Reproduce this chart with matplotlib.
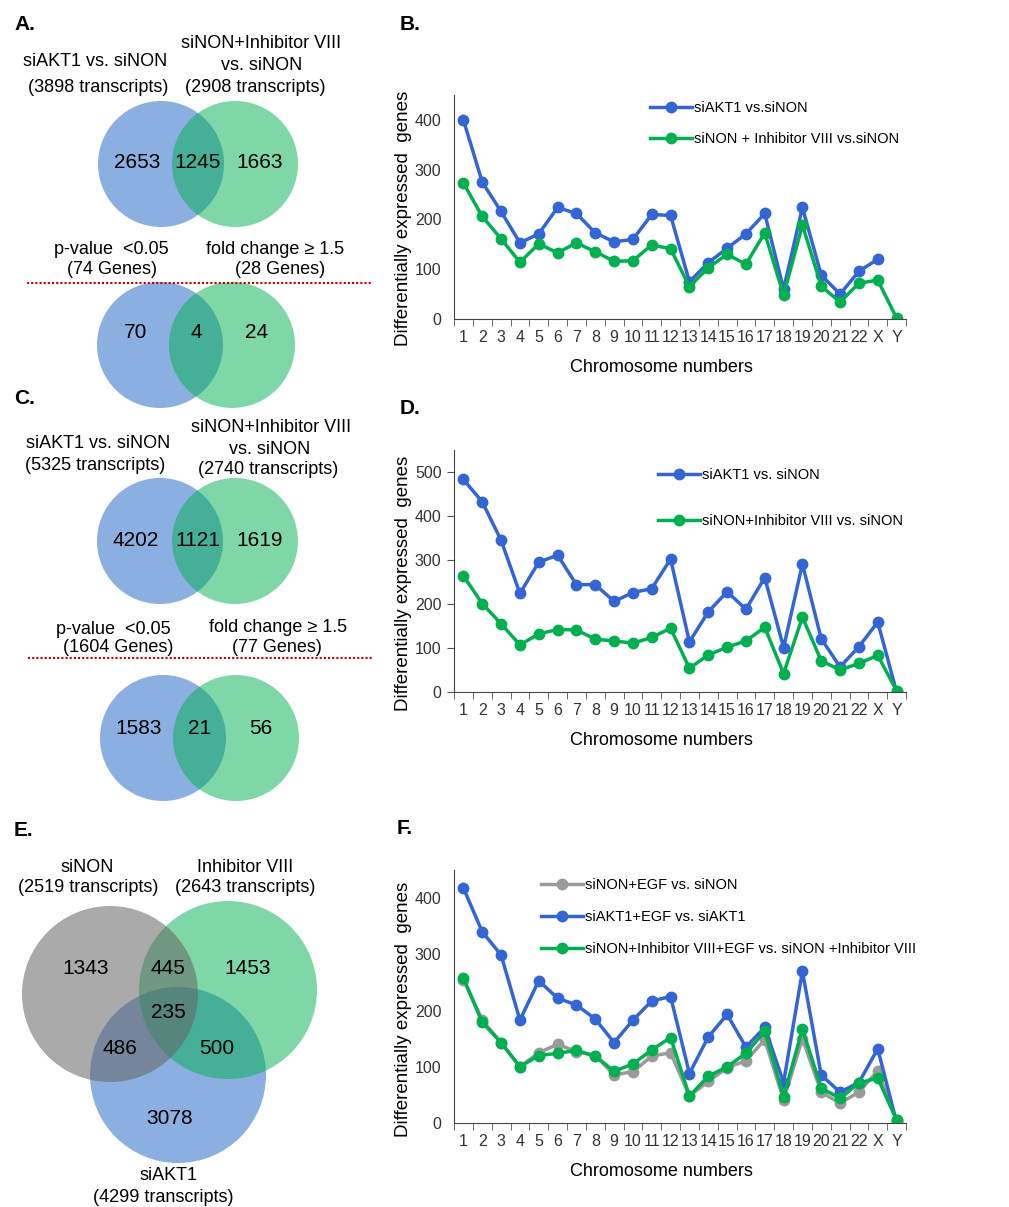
import numpy as np
import matplotlib
matplotlib.use('Agg')
import matplotlib.pyplot as plt
from matplotlib.patches import Circle

plt.rcParams['font.family'] = ['Liberation Sans', 'DejaVu Sans']

# dados
chrom = [str(i) for i in range(1, 23)] + ['X', 'Y']

b_siakt1 = [400, 275, 216, 153, 171, 224, 212, 173, 155, 160, 210, 208,
            75, 113, 142, 171, 212, 60, 224, 88, 50, 96, 120, np.nan]
b_inhib = [273, 206, 161, 114, 151, 133, 153, 135, 116, 117, 149, 141,
           65, 103, 130, 110, 173, 48, 189, 66, 34, 72, 78, 2]

d_siakt1 = [483, 432, 345, 224, 295, 311, 244, 244, 206, 226, 235, 302,
            114, 182, 228, 188, 260, 101, 291, 121, 57, 103, 159, 0]
d_inhib = [264, 201, 155, 107, 132, 142, 141, 120, 116, 111, 124, 145,
           54, 84, 102, 116, 147, 42, 170, 71, 50, 65, 83, 3]

f_sinon_egf = [255, 183, 143, 100, 125, 140, 127, 120, 86, 91, 119, 125,
               48, 74, 98, 111, 148, 41, 150, 55, 35, 55, 93, 5]
f_siakt1_egf = [418, 340, 299, 183, 253, 222, 210, 185, 143, 183, 217, 225,
                88, 153, 193, 135, 170, 72, 270, 85, 55, 72, 132, 1]
f_inhib_egf = [258, 179, 143, 100, 120, 124, 129, 119, 92, 105, 130, 152,
               48, 83, 100, 124, 163, 47, 167, 62, 44, 71, 80, 5]

venn_a_top = [2653, 1245, 1663]
venn_a_bot = [70, 4, 24]
venn_c_top = [4202, 1121, 1619]
venn_c_bot = [1583, 21, 56]
# siNON, siNON&Inhib, Inhib, todos, siNON&siAKT1, Inhib&siAKT1, siAKT1
venn_e = [1343, 445, 1453, 235, 486, 500, 3078]

BLUE = '#3465D5'
GREEN = '#00B050'
GRAY = '#9A9A9A'
W, H = 1009, 1207

fig = plt.figure(figsize=(W / 100, H / 100), dpi=100)

# coluna esquerda: diagramas de Venn em coordenadas de pixel
ax0 = fig.add_axes([0, 0, 380 / W, 1])
ax0.set_xlim(0, 380)
ax0.set_ylim(H, 0)
ax0.axis('off')

C_BLUE = '#8BAFE0'
def venn2(cy, xl, xr, r, nums, ny):
    ax0.add_patch(Circle((xl, cy), r, facecolor=C_BLUE, edgecolor='none'))
    ax0.add_patch(Circle((xr, cy), r, facecolor=GREEN, alpha=0.5, edgecolor='none'))
    for x, n in zip([xl - 24, (xl + xr) / 2, xr + 25], nums):
        ax0.text(x, ny, str(n), ha='center', va='center', fontsize=15)

def t(x, y, s, size=13):
    ax0.text(x, y, s, ha='center', va='center', fontsize=size)

# A
venn2(164, 161, 235, 63, venn_a_top, 162)
t(95, 62, 'siAKT1 vs. siNON'); t(98, 87, '(3898 transcripts)')
t(261, 43, 'siNON+Inhibitor VIII'); t(262, 66, 'vs. siNON'); t(255, 88, '(2908 transcripts)')
t(111, 249, 'p-value  <0.05'); t(112, 269, '(74 Genes)')
t(275, 249, 'fold change \u2265 1.5'); t(280, 269, '(28 Genes)')
ax0.plot([27, 373], [283, 283], color='#C00000', ls=(0, (1, 1)), lw=1.5)
venn2(345, 160, 232, 63, venn_a_bot, 333)

# C
venn2(541, 160, 235, 63, venn_c_top, 540)
t(98, 443, 'siAKT1 vs. siNON'); t(95, 465, '(5325 transcripts)')
t(271, 427, 'siNON+Inhibitor VIII'); t(270, 450, 'vs. siNON'); t(268, 469, '(2740 transcripts)')
t(113, 629, 'p-value  <0.05'); t(118, 648, '(1604 Genes)')
t(278, 627, 'fold change \u2265 1.5'); t(277, 648, '(77 Genes)')
ax0.plot([28, 373], [658, 658], color='#C00000', ls=(0, (1, 1)), lw=1.5)
venn2(738, 163, 236, 63, venn_c_bot, 729)

# E
ax0.add_patch(Circle((178, 1075), 88, facecolor=C_BLUE, edgecolor='none'))
ax0.add_patch(Circle((228, 990), 89, facecolor=GREEN, alpha=0.5, edgecolor='none'))
ax0.add_patch(Circle((110, 994), 88, facecolor='#646464', alpha=0.55, edgecolor='none'))
pos_e = [(86, 968), (168, 968), (248, 968), (168, 1013), (120, 1048), (217, 1048), (170, 1119)]
for (x, y), n in zip(pos_e, venn_e):
    ax0.text(x, y, str(n), ha='center', va='center', fontsize=15)
t(87, 867, 'siNON'); t(88, 887, '(2519 transcripts)')
t(245, 867, 'Inhibitor VIII'); t(245, 887, '(2643 transcripts)')
t(168, 1175, 'siAKT1'); t(163, 1197, '(4299 transcripts)')

# letras dos painéis
for x, y, s in [(14, 25, 'A.'), (400, 25, 'B.'), (14, 398, 'C.'), (400, 408, 'D.'),
                (14, 830, 'E.'), (397, 828, 'F.')]:
    fig.text(x / W, 1 - y / H, s, fontsize=15, fontweight='bold', ha='left', va='center')


def line_panel(top, bottom, ymax, yticks, series, leg_xy, leg_gap, ytickmarks=False):
    ax = fig.add_axes([454 / W, 1 - bottom / H, (906 - 454) / W, (bottom - top) / H])
    x = np.arange(len(chrom))
    for vals, col, lab in series:
        ax.plot(x, vals, color=col, lw=2.5, marker='o', ms=7.5, label=lab)
    ax.set_xlim(-0.5, len(chrom) - 0.5)
    ax.set_ylim(0, ymax)
    ax.set_yticks(yticks)
    ax.set_xticks(x)
    ax.set_xticklabels(chrom)
    ax.set_xticks(np.arange(len(chrom) + 1) - 0.5, minor=True)
    ax.tick_params(axis='x', which='major', length=0, pad=8, labelsize=11.5, labelcolor='#333333')
    ax.tick_params(axis='x', which='minor', length=5, color='#555555')
    ax.tick_params(axis='y', length=5 if ytickmarks else 0, pad=4 if ytickmarks else 9,
                   labelsize=11.5, labelcolor='#333333', color='#555555')
    for s in ['top', 'right']:
        ax.spines[s].set_visible(False)
    for s in ['left', 'bottom']:
        ax.spines[s].set_color('#444444')
    h = bottom - top
    ax.set_xlabel('Chromosome numbers', fontsize=13)
    ax.xaxis.set_label_coords(0.46, -40 / h)
    ax.set_ylabel('Differentially expressed  genes', fontsize=13.5)
    ax.yaxis.set_label_coords(-0.092, 0.45)
    ax.legend(loc='upper left', bbox_to_anchor=(leg_xy[0] / W, 1 - leg_xy[1] / H),
              bbox_transform=fig.transFigure, frameon=False, fontsize=10.5,
              handlelength=2.9, handletextpad=0.15, labelspacing=leg_gap,
              borderaxespad=0, borderpad=0)
    return ax

line_panel(95, 319, 450, [0, 100, 200, 300, 400],
           [(b_siakt1, BLUE, 'siAKT1 vs.siNON'),
            (b_inhib, GREEN, 'siNON + Inhibitor VIII vs.siNON')],
           (650, 101), 1.15)

line_panel(450, 692, 550, [0, 100, 200, 300, 400, 500],
           [(d_siakt1, BLUE, 'siAKT1 vs. siNON'),
            (d_inhib, GREEN, 'siNON+Inhibitor VIII vs. siNON')],
           (658, 468), 2.2, ytickmarks=True)

line_panel(870, 1123, 450, [0, 100, 200, 300, 400],
           [(f_sinon_egf, GRAY, 'siNON+EGF vs. siNON'),
            (f_siakt1_egf, BLUE, 'siAKT1+EGF vs. siAKT1'),
            (f_inhib_egf, GREEN, 'siNON+Inhibitor VIII+EGF vs. siNON +Inhibitor VIII')],
           (541, 878), 1.25)

fig.savefig('out.png', dpi=100)
